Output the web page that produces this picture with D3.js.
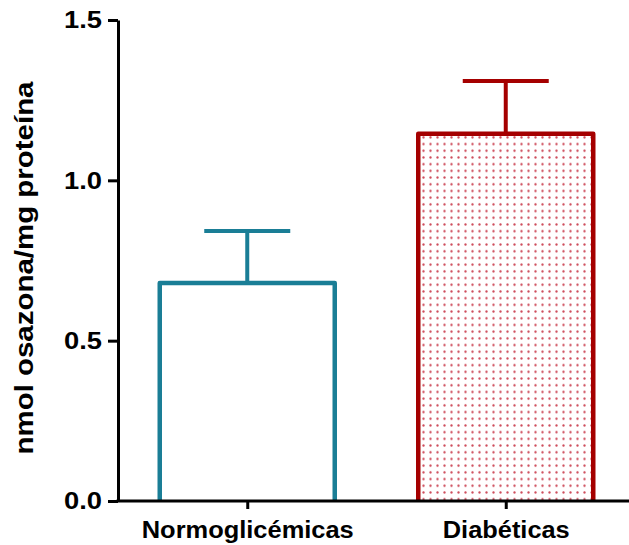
<!DOCTYPE html>
<meta charset="utf-8">
<style>
    body { margin: 0; background: #fff; }
    text { font-family: "Liberation Sans", Arial, sans-serif; font-weight: bold; fill: #000; }
</style>
<svg width="629" height="545"></svg>
<script src="https://d3js.org/d3.v7.min.js"></script>
<script>

    // data
    var groups = ["Normoglicémicas", "Diabéticas"];
    var means = [0.68, 1.145];
    var sems = [0.162, 0.165];
    var yTicks = [0, 0.5, 1.0, 1.5];

    var colors = ["#1a7e96", "#a50000"];

    var svg = d3.select("svg"),
        x0 = 118, x1 = 635, yTop = 20, yBot = 501;

    var defs = svg.append("defs");
    var pat = defs.append("pattern")
        .attr("id", "dots")
        .attr("patternUnits", "userSpaceOnUse")
        .attr("width", 7).attr("height", 6.7);
    pat.append("circle")
        .attr("cx", 3.5).attr("cy", 3.3).attr("r", 1.15)
        .attr("fill", "#c52a3c").attr("opacity", 0.85);

    var x = d3.scalePoint().domain(groups).range([x0, x1]).padding(0.5);
    var y = d3.scaleLinear().domain([0, 1.5]).range([yBot, yTop]);

    var barW = 175, capW = 86;

    var data = groups.map(function(g, i) {
        return { name: g, mean: means[i], sem: sems[i], color: colors[i], i: i };
    });

    var bar = svg.selectAll(".bar")
        .data(data)
        .enter().append("g")
        .attr("class", "bar");

    // error bar (drawn first, bar top covers the join)
    bar.append("line")
        .attr("x1", function(d) { return x(d.name); })
        .attr("x2", function(d) { return x(d.name); })
        .attr("y1", function(d) { return y(d.mean); })
        .attr("y2", function(d) { return y(d.mean + d.sem); })
        .attr("stroke", function(d) { return d.color; })
        .attr("stroke-width", 4);

    bar.append("line")
        .attr("x1", function(d) { return x(d.name) - capW / 2; })
        .attr("x2", function(d) { return x(d.name) + capW / 2; })
        .attr("y1", function(d) { return y(d.mean + d.sem); })
        .attr("y2", function(d) { return y(d.mean + d.sem); })
        .attr("stroke", function(d) { return d.color; })
        .attr("stroke-width", 4);

    bar.append("path")
        .attr("d", function(d) {
            var l = x(d.name) - barW / 2, r = x(d.name) + barW / 2;
            return "M" + l + "," + y(0) + "V" + y(d.mean) + "H" + r + "V" + y(0);
        })
        .attr("fill", function(d) { return d.i === 1 ? "url(#dots)" : "#fff"; })
        .attr("stroke", function(d) { return d.color; })
        .attr("stroke-width", 4.5)
        .attr("stroke-linejoin", "round");

    // axes
    var yAxis = svg.append("g")
        .attr("transform", "translate(" + x0 + ",0)")
        .call(d3.axisLeft(y).tickValues(yTicks).tickFormat(d3.format(".1f"))
            .tickSize(10).tickSizeOuter(0).tickPadding(6));

    yAxis.selectAll("path, line").attr("stroke", "#000").attr("stroke-width", 3);
    yAxis.selectAll("text")
        .attr("font-size", 24.5)
        .attr("font-family", "Liberation Sans, Arial, sans-serif")
        .attr("font-weight", "bold")
        .attr("textLength", 38).attr("lengthAdjust", "spacingAndGlyphs");

    var xAxis = svg.append("g")
        .attr("transform", "translate(0," + yBot + ")")
        .call(d3.axisBottom(x).tickSize(8).tickSizeOuter(0).tickPadding(13));

    xAxis.select(".domain").attr("d", "M" + (x0 - 1.5) + ",0H629");
    xAxis.selectAll("path, line").attr("stroke", "#000").attr("stroke-width", 3);
    xAxis.selectAll("text")
        .attr("font-size", 23)
        .attr("font-family", "Liberation Sans, Arial, sans-serif")
        .attr("font-weight", "bold")
        .attr("textLength", function(d) { return d === groups[0] ? 212 : 127; })
        .attr("lengthAdjust", "spacingAndGlyphs");

    svg.append("text")
        .attr("transform", "translate(33,268) rotate(-90)")
        .attr("text-anchor", "middle")
        .attr("font-size", 25)
        .attr("textLength", 373)
        .attr("lengthAdjust", "spacingAndGlyphs")
        .text("nmol osazona/mg proteína");

</script>
